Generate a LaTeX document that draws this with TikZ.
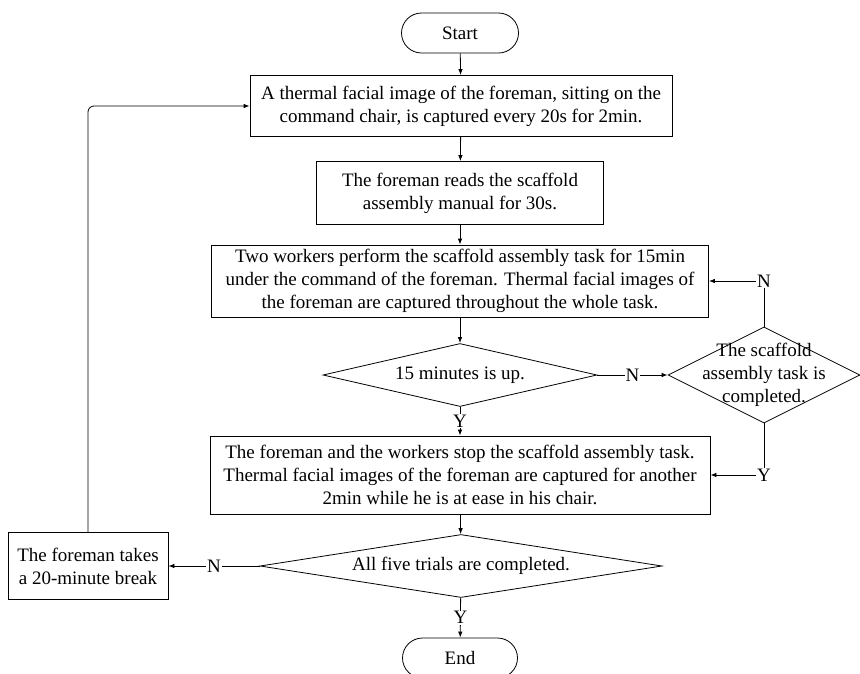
\documentclass[tikz,border=0pt]{standalone}
\usepackage{fontspec}
\setmainfont{Liberation Serif}
\usetikzlibrary{shapes.geometric,shapes.misc,arrows.meta}
\begin{document}
\begin{tikzpicture}[x=1pt,y=-1pt,
  font=\fontsize{19}{23}\selectfont,
  every node/.style={inner sep=0pt},
  terminal/.style={draw,rounded rectangle,line width=0.8pt},
  process/.style={draw,rectangle,align=center,line width=0.8pt},
  decision/.style={draw,diamond,line width=0.8pt},
  flow/.style={-{Latex[length=6pt,width=4.5pt]},line width=0.8pt},
  yn/.style={fill=white,inner sep=1pt}]
  \useasboundingbox (0,0) rectangle (860,673);
  \begin{scope}
  \clip (0,0) rectangle (860,673);

  \node [terminal,minimum width=117,minimum height=40] (start) at (460,33) {Start};
  \node [process,minimum width=422,minimum height=61] (init) at (461,106)
    {A thermal facial image of the foreman, sitting on the\\command chair, is captured every 20s for 2min.};
  \node [process,minimum width=287,minimum height=63] (read) at (460,193)
    {The foreman reads the scaffold\\assembly manual for 30s.};
  \node [process,minimum width=497,minimum height=72] (task) at (460,281)
    {Two workers perform the scaffold assembly task for 15min\\under the command of the foreman. Thermal facial images of\\the foreman are captured throughout the whole task.};
  \node [decision,minimum width=274,minimum height=63] (time) at (460,375) {};
  \node at (time) {15 minutes is up.};
  \node [decision,minimum width=192,minimum height=96] (done) at (764,375) {};
  \node [align=center] at (done) {The scaffold\\assembly task is\\completed.};
  \node [process,minimum width=500,minimum height=78] (stop) at (460,475)
    {The foreman and the workers stop the scaffold assembly task.\\Thermal facial images of the foreman are captured for another\\2min while he is at ease in his chair.};
  \node [decision,minimum width=402,minimum height=63] (trials) at (461,566) {};
  \node at (trials) {All five trials are completed.};
  \node [process,minimum width=160,minimum height=67] (brk) at (88,566)
    {The foreman takes\\a 20-minute break};
  \node [terminal,minimum width=115,minimum height=40] (end) at (460,658) {End};

  \draw [flow] (start) -- (init);
  \draw [flow] (init) -- (read);
  \draw [flow] (read) -- (task);
  \draw [flow] (task) -- (time);
  \draw [flow] (time) -- node [yn] {N} (done);
  \draw [flow] (done.north) |- node [yn] {N} (task.east);
  \draw [flow] (time) -- node [yn] {Y} (stop);
  \draw [flow] (done.south) |- node [yn] {Y} (stop.east);
  \draw [flow] (stop) -- (trials);
  \draw [flow] (trials) -- node [yn] {N} (brk);
  \draw [flow] (trials) -- node [yn] {Y} (end);
  \draw [flow,rounded corners=6pt] (brk.north) |- (init.west);
  \end{scope}
\end{tikzpicture}
\end{document}
